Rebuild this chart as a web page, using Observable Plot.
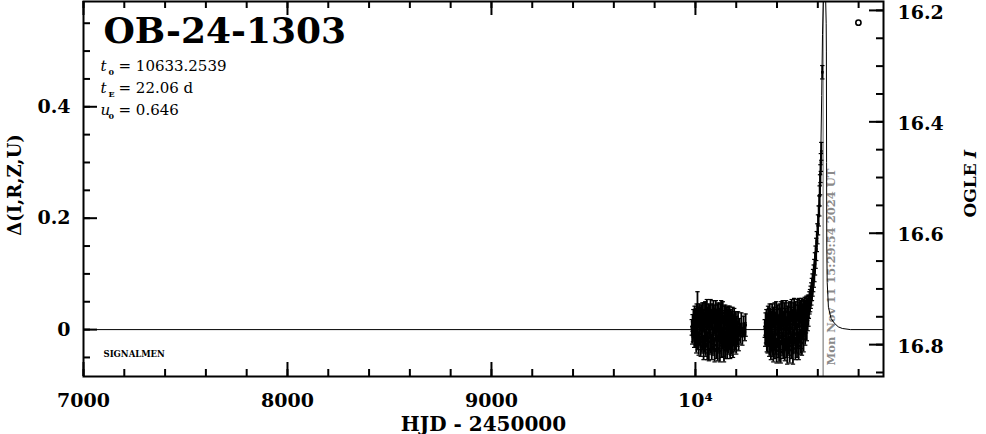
<!DOCTYPE html>
<html><head><meta charset="utf-8">
<script src="https://cdn.jsdelivr.net/npm/d3@7"></script>
<script src="https://cdn.jsdelivr.net/npm/@observablehq/plot@0.6"></script>
<style>body{margin:0;background:#fff}</style>
</head><body><div id="chart"></div>
<script>
// ---------- data ----------
const title = "OB-24-1303";
const paramSymbols = ["t", "t", "u"];
const paramSubs = ["0", "E", "0"];
const paramValues = ["= 10633.2539", "= 22.06 d", "= 0.646"];
const signature = "SIGNALMEN";
const nowHJD = 10626.15;
const nowLabel = "Mon Nov 11 15:29:54 2024 UT";
const xLabel = "HJD - 2450000";
const yLabel = "Δ(I,R,Z,U)";
const rightLabel = "OGLE";
const rightLabelItalic = "I";
const baseI = 16.773;           // OGLE I magnitude at Δ = 0

const xDomain = [7000, 10922];
const yDomain = [-0.0842, 0.589];
const xMajorTicks = [7000, 8000, 9000, 10000];
const xTickLabels = ["7000", "8000", "9000", "10⁴"];
const xMinorTicks = [7000,7200,7400,7600,7800,8000,8200,8400,8600,8800,9000,9200,9400,9600,9800,10000,10200,10400,10600,10800];
const yMajorTicks = [0, 0.2, 0.4];
const yTickLabels = ["0", "0.2", "0.4"];
const yMinorTicks = [-0.05,0,0.05,0.1,0.15,0.2,0.25,0.3,0.35,0.4,0.45,0.5,0.55];
const rightTicks = [16.2, 16.4, 16.6, 16.8];
const rightTickLabels = ["16.2", "16.4", "16.6", "16.8"];
const rightMinorTicks = [16.2,16.25,16.3,16.35,16.4,16.45,16.5,16.55,16.6,16.65,16.7,16.75,16.8,16.85];

// model curve (HJD-2450000, Δmag)
const modelT = [7000,10450,10500,10540,10560,10575,10590,10600,10608,10614,10619,10623,10628,10633,10638,10641,10642,10643,10644,10646,10652,10665,10680,10700,10720,10760,10922];
const modelD = [0,0,0.003,0.01,0.03,0.06,0.12,0.18,0.24,0.30,0.42,0.53,0.60,0.63,0.60,0.55,0.5,0.3,0.15,0.085,0.04,0.02,0.012,0.005,0.002,0,0];

// OGLE photometry: [HJD-2450000, Δmag, error]
const season2023 = [
[9982,0.004,0.014],[9984,-0.010,0.016],[9986,0.012,0.015],[9988,-0.004,0.018],[9990,0.016,0.020],[9992,0.002,0.016],[9994,-0.014,0.018],[9996,0.020,0.022],[9998,0.008,0.018],[10000,-0.012,0.020],
[10002,0.018,0.020],[10004,-0.020,0.022],[10006,0.026,0.020],[10008,0.012,0.024],[10010,0.042,0.026],[10012,-0.016,0.020],[10014,0.022,0.018],[10016,-0.026,0.020],[10018,0.010,0.022],[10020,0.028,0.018],
[10022,-0.008,0.020],[10024,0.018,0.022],[10026,-0.030,0.018],[10028,0.024,0.020],[10030,0.004,0.022],[10032,-0.022,0.020],[10034,0.030,0.018],[10036,-0.012,0.024],[10038,0.016,0.020],[10040,-0.034,0.020],
[10042,0.026,0.022],[10044,0.006,0.018],[10046,-0.018,0.024],[10048,0.030,0.020],[10050,-0.026,0.022],[10052,0.014,0.020],[10054,-0.006,0.018],[10056,0.032,0.022],[10058,-0.030,0.024],[10060,0.020,0.020],
[10062,-0.014,0.022],[10064,0.028,0.018],[10066,-0.036,0.020],[10068,0.010,0.024],[10070,0.024,0.020],[10072,-0.022,0.022],[10074,0.034,0.020],[10076,-0.010,0.024],[10078,0.018,0.018],[10080,-0.032,0.022],
[10082,0.026,0.020],[10084,0.002,0.024],[10086,-0.026,0.020],[10088,0.030,0.022],[10090,-0.016,0.020],[10092,0.014,0.024],[10094,-0.038,0.020],[10096,0.022,0.022],[10098,-0.004,0.018],[10100,0.032,0.020],
[10102,-0.028,0.024],[10104,0.016,0.020],[10106,-0.012,0.022],[10108,0.026,0.020],[10110,-0.034,0.022],[10112,0.008,0.024],[10114,0.030,0.018],[10116,-0.020,0.022],[10118,0.018,0.020],[10120,-0.038,0.020],
[10122,0.024,0.022],[10124,-0.008,0.020],[10126,0.028,0.024],[10128,-0.030,0.020],[10130,0.012,0.022],[10132,-0.016,0.018],[10134,0.030,0.020],[10136,-0.024,0.024],[10138,0.006,0.020],[10140,-0.036,0.022],
[10142,0.022,0.020],[10144,-0.010,0.022],[10146,0.026,0.018],[10148,-0.028,0.024],[10150,0.014,0.020],[10152,-0.018,0.022],[10154,0.020,0.020],[10156,-0.032,0.020],[10158,0.008,0.024],[10160,0.024,0.018],
[10162,-0.022,0.022],[10164,0.016,0.020],[10166,-0.012,0.024],[10168,0.022,0.020],[10170,-0.030,0.022],[10172,0.004,0.020],[10174,0.018,0.018],[10176,-0.024,0.022],[10178,0.012,0.020],[10180,-0.016,0.024],
[10182,0.020,0.020],[10184,-0.028,0.022],[10186,0.008,0.018],[10188,-0.008,0.020],[10190,0.016,0.022],[10192,-0.020,0.020],[10194,0.010,0.018],[10196,-0.014,0.022],[10198,0.012,0.020],[10200,-0.024,0.020],
[10203,0.006,0.018],[10206,-0.010,0.020],[10209,0.014,0.018],[10212,-0.018,0.020],[10216,0.004,0.016],[10220,-0.008,0.018],[10225,0.010,0.020],[10230,-0.012,0.016],[10236,0.006,0.018],[10242,-0.004,0.016],[10246,0.008,0.020]
];
const season2024 = [
[10340,0.002,0.016],[10342,-0.012,0.018],[10344,0.010,0.020],[10346,-0.006,0.018],[10348,0.016,0.020],[10350,-0.018,0.022],[10352,0.008,0.020],[10354,-0.024,0.018],[10356,0.020,0.022],[10358,-0.010,0.020],
[10360,0.014,0.024],[10362,-0.028,0.020],[10364,0.024,0.022],[10366,-0.004,0.020],[10368,0.018,0.018],[10370,-0.032,0.022],[10372,0.012,0.020],[10374,-0.016,0.024],[10376,0.026,0.020],[10378,-0.026,0.022],
[10380,0.006,0.020],[10382,-0.036,0.022],[10384,0.022,0.018],[10386,-0.012,0.024],[10388,0.028,0.020],[10390,-0.030,0.022],[10392,0.010,0.020],[10394,-0.020,0.024],[10396,0.030,0.020],[10398,-0.038,0.022],
[10400,0.016,0.020],[10402,-0.008,0.024],[10404,0.024,0.020],[10406,-0.028,0.022],[10408,0.004,0.020],[10410,-0.034,0.024],[10412,0.026,0.020],[10414,-0.014,0.022],[10416,0.018,0.020],[10418,-0.040,0.020],
[10420,0.028,0.022],[10422,-0.006,0.020],[10424,0.014,0.024],[10426,-0.026,0.020],[10428,0.030,0.022],[10430,-0.032,0.020],[10432,0.008,0.024],[10434,-0.018,0.020],[10436,0.026,0.022],[10438,-0.036,0.020],
[10440,0.018,0.020],[10442,-0.010,0.024],[10444,0.032,0.020],[10446,-0.028,0.022],[10448,0.002,0.020],[10450,-0.040,0.022],[10452,0.022,0.020],[10454,-0.016,0.024],[10456,0.028,0.020],[10458,-0.024,0.022],
[10460,0.012,0.020],[10462,-0.036,0.024],[10464,0.030,0.020],[10466,-0.006,0.022],[10468,0.020,0.020],[10470,-0.030,0.022],[10472,0.034,0.020],[10474,-0.014,0.024],[10476,0.016,0.020],[10478,-0.042,0.020],
[10480,0.026,0.022],[10482,-0.020,0.020],[10484,0.032,0.024],[10486,-0.008,0.020],[10488,0.022,0.022],[10490,-0.034,0.020],[10492,0.030,0.020],[10494,-0.018,0.024],[10496,0.010,0.020],[10498,-0.028,0.022],
[10500,0.034,0.020],[10502,-0.012,0.022],[10504,0.024,0.020],[10506,-0.030,0.024],[10508,0.036,0.020],[10510,-0.004,0.022],[10512,0.028,0.020],[10514,-0.022,0.022],[10516,0.032,0.020],[10518,-0.010,0.024],
[10520,0.036,0.020],[10522,-0.024,0.022],[10524,0.026,0.020],[10526,0.004,0.022],[10528,0.034,0.020],[10530,-0.016,0.024],[10532,0.030,0.020],[10534,0.010,0.022],[10536,0.038,0.020],[10538,-0.006,0.022],
[10540,0.032,0.020],[10542,0.016,0.022],[10544,0.040,0.020],[10546,0.002,0.022],[10548,0.036,0.020],[10550,0.020,0.022],[10552,0.042,0.020],[10554,0.028,0.022],
[10556,0.040,0.020],[10559,0.048,0.020],[10562,0.052,0.020],[10565,0.058,0.020],[10568,0.064,0.020],[10571,0.072,0.020],[10574,0.080,0.020],[10577,0.088,0.020],[10580,0.096,0.020],[10583,0.106,0.020],
[10586,0.118,0.020],[10589,0.130,0.020],[10592,0.144,0.020],[10595,0.158,0.018],[10598,0.172,0.018],[10601,0.188,0.018],[10604,0.204,0.018],[10607,0.222,0.018],[10609,0.240,0.018],[10611,0.260,0.018],
[10613,0.280,0.016],[10615,0.300,0.016],[10617,0.320,0.016],[10622,0.462,0.012]
];
const markerPoint = [[10799, 0.551]];

// ---------- layout ----------
const W = 986, H = 434, mL = 83, mR = 103, mT = 1, mB = 58;
const xPx = (W - mL - mR) / (xDomain[1] - xDomain[0]);
const yPx = (H - mT - mB) / (yDomain[1] - yDomain[0]);
const majLen = 14, minLen = 7;
const FONT = "DejaVu Serif";
const points = season2023.concat(season2024);
const capSymbol = {draw(ctx, size) { const w = 2.2; ctx.moveTo(-w, 0); ctx.lineTo(w, 0); }};

const tickStyle = {stroke: "black", strokeWidth: 2};
const bold = {fontFamily: FONT, fontWeight: "bold", fill: "black"};

const chart = Plot.plot({
  width: W, height: H,
  marginLeft: mL, marginRight: mR, marginTop: mT, marginBottom: mB,
  x: {domain: xDomain, axis: null},
  y: {domain: yDomain, axis: null},
  style: {fontFamily: FONT, background: "white", color: "black", overflow: "visible"},
  marks: [
    // current-date line and label
    Plot.ruleX([nowHJD], {x: d => d, stroke: "#9a9a9a", strokeWidth: 1.5}),
    Plot.text([nowLabel], {x: nowHJD, frameAnchor: "bottom", dx: 8.5, dy: -11, rotate: -90,
      textAnchor: "start", lineAnchor: "middle", fill: "#8a8a8a", fontSize: 11.5, fontWeight: "bold", fontFamily: FONT, text: d => d}),
    // model
    Plot.line(modelT, {x: modelT, y: modelD, stroke: "black", strokeWidth: 1, clip: true}),
    // data with error bars
    Plot.ruleX(points, {x: d => d[0], y1: d => d[1] - d[2], y2: d => d[1] + d[2], stroke: "black", strokeWidth: 1.8, clip: true}),
    Plot.dot(points, {x: d => d[0], y: d => d[1] + d[2], symbol: capSymbol, r: 1, stroke: "black", fill: "none", strokeWidth: 1.2, clip: true}),
    Plot.dot(points, {x: d => d[0], y: d => d[1] - d[2], symbol: capSymbol, r: 1, stroke: "black", fill: "none", strokeWidth: 1.2, clip: true}),
    Plot.dot(points, {x: d => d[0], y: d => d[1], symbol: "square", r: 1.5, fill: "black", stroke: "none", clip: true}),
    Plot.dot(markerPoint, {x: d => d[0], y: d => d[1], r: 2.6, stroke: "black", strokeWidth: 1.6, fill: "none"}),
    // ticks: bottom / top
    Plot.ruleX(xMinorTicks, {x: d => d, y1: yDomain[0], y2: yDomain[0] + minLen / yPx, ...tickStyle}),
    Plot.ruleX(xMajorTicks, {x: d => d, y1: yDomain[0], y2: yDomain[0] + majLen / yPx, ...tickStyle}),
    Plot.ruleX(xMinorTicks, {x: d => d, y1: yDomain[1] - minLen / yPx, y2: yDomain[1], ...tickStyle}),
    Plot.ruleX(xMajorTicks, {x: d => d, y1: yDomain[1] - majLen / yPx, y2: yDomain[1], ...tickStyle}),
    // ticks: left
    Plot.ruleY(yMinorTicks, {y: d => d, x1: xDomain[0], x2: xDomain[0] + minLen / xPx, ...tickStyle}),
    Plot.ruleY(yMajorTicks, {y: d => d, x1: xDomain[0], x2: xDomain[0] + majLen / xPx, ...tickStyle}),
    // ticks: right (OGLE I)
    Plot.ruleY(rightMinorTicks, {y: d => baseI - d, x1: xDomain[1] - minLen / xPx, x2: xDomain[1], ...tickStyle}),
    Plot.ruleY(rightTicks, {y: d => baseI - d, x1: xDomain[1] - majLen / xPx, x2: xDomain[1], ...tickStyle}),
    Plot.frame({stroke: "black", strokeWidth: 2}),
    // tick labels
    Plot.text(xMajorTicks, {x: d => d, text: (d, i) => xTickLabels[i], frameAnchor: "bottom", dy: 24,
      textAnchor: "middle", lineAnchor: "middle", fontSize: 19, ...bold}),
    Plot.text(yMajorTicks, {y: d => d, text: (d, i) => yTickLabels[i], frameAnchor: "left", dx: -13,
      textAnchor: "end", lineAnchor: "middle", fontSize: 19, ...bold}),
    Plot.text(rightTicks, {y: d => baseI - d, text: (d, i) => rightTickLabels[i], frameAnchor: "right", dx: 14, dy: 2,
      textAnchor: "start", lineAnchor: "middle", fontSize: 19, ...bold}),
    // axis titles
    Plot.text([xLabel], {frameAnchor: "bottom", dy: 48, textAnchor: "middle", lineAnchor: "middle", fontSize: 20, text: d => d, ...bold}),
    Plot.text([yLabel], {frameAnchor: "left", dx: -68, dy: -4, rotate: -90, textAnchor: "middle", lineAnchor: "middle", fontSize: 18, text: d => d, ...bold}),
    Plot.text([rightLabel], {frameAnchor: "right", dx: 87, dy: 28.5, rotate: -90, textAnchor: "start", lineAnchor: "middle", fontSize: 17, text: d => d, ...bold}),
    Plot.text([rightLabelItalic], {frameAnchor: "right", dx: 87, dy: -35, rotate: -90, textAnchor: "middle", lineAnchor: "middle", fontSize: 17, fontStyle: "italic", text: d => d, ...bold}),
    // title & parameters
    Plot.text([title], {frameAnchor: "top-left", dx: 20, dy: 30, textAnchor: "start", lineAnchor: "middle", fontSize: 36, text: d => d, ...bold}),
    Plot.text([paramSymbols.join("\n")], {frameAnchor: "top-left", dx: 17, dy: 84, textAnchor: "start", lineAnchor: "middle",
      lineHeight: 22 / 15, fontSize: 15, fontStyle: "italic", fontFamily: FONT, fill: "black", text: d => d}),
    Plot.text([paramSubs.join("\n")], {frameAnchor: "top-left", dx: 25, dy: 88, textAnchor: "start", lineAnchor: "middle",
      lineHeight: 22 / 8, fontSize: 8, fontFamily: FONT, fontWeight: "bold", fill: "black", text: d => d}),
    Plot.text([paramValues.join("\n")], {frameAnchor: "top-left", dx: 35, dy: 84, textAnchor: "start", lineAnchor: "middle",
      lineHeight: 22 / 15, fontSize: 15, fontFamily: FONT, fill: "black", text: d => d}),
    Plot.text([signature], {frameAnchor: "bottom-left", dx: 20, dy: -22, textAnchor: "start", lineAnchor: "middle",
      fontSize: 8.5, text: d => d, ...bold})
  ]
});
document.getElementById("chart").appendChild(chart);
</script></body></html>
